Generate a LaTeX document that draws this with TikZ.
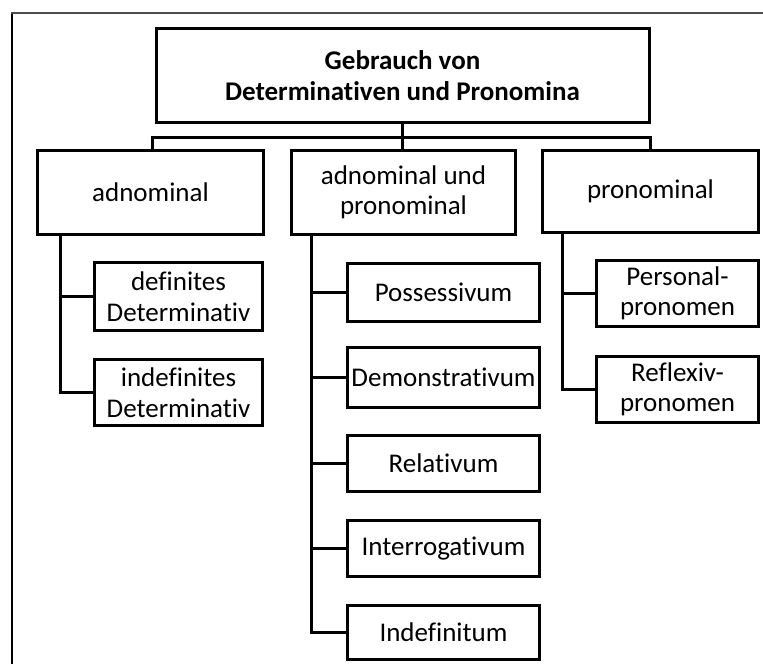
\documentclass[tikz,border=0pt]{standalone}
\usepackage{fontspec}
\setmainfont{Carlito}[Ligatures={NoCommon,NoRare}]
\begin{document}
\begin{tikzpicture}[x=1pt,y=-1pt,
  box/.style={draw=black,line width=3pt,align=center,inner sep=0pt,
    font=\fontsize{27}{30.5}\selectfont},
  link/.style={draw=black,line width=3pt}]
\useasboundingbox (0,0) rectangle (763,664);
% outer frame, cut off at the right and bottom
\draw[black,line width=2pt] (12,664) -- (12,13);
\draw[black!70,line width=2pt] (11,13) -- (763,13);

% root
\node[box,minimum width=493pt,minimum height=94pt,font=\fontsize{27}{31}\selectfont\bfseries]
  (top) at (402.5,75.5) {Gebrauch von\\Determinativen und Pronomina};

% first level
\node[box,minimum width=226pt,minimum height=84pt] (adn) at (150.5,192.5) {adnominal};
\node[box,minimum width=224pt,minimum height=84pt] (both) at (403.5,192.5) {adnominal und\\pronominal};
\node[box,minimum width=216pt,minimum height=82pt] (pro) at (650.5,191.5) {pronominal};

% children of adnominal
\node[box,minimum width=168pt,minimum height=68pt] (def) at (178.5,296.5) {definites\\Determinativ};
\node[box,minimum width=168pt,minimum height=66pt] (indef) at (178.5,392.5) {indefinites\\Determinativ};

% children of adnominal und pronominal
\node[box,minimum width=192pt,minimum height=58pt] (poss) at (443.5,292.5) {Possessivum};
\node[box,minimum width=192pt,minimum height=60pt] (dem) at (443.5,377.5) {Demonstrativum};
\node[box,minimum width=192pt,minimum height=56pt] (rel) at (443.5,463.5) {Relativum};
\node[box,minimum width=192pt,minimum height=56pt] (int) at (443.5,548.5) {Interrogativum};
\node[box,minimum width=192pt,minimum height=54pt] (indf) at (443.5,632.5) {Indefinitum};

% children of pronominal
\node[box,minimum width=162pt,minimum height=66pt] (pers) at (677.5,293.5) {Personal-\\pronomen};
\node[box,minimum width=162pt,minimum height=66pt] (refl) at (677.5,389.5) {Reflexiv-\\pronomen};

% root to first level
\draw[link] (top.south) -- ++(0,13) coordinate (j);
\draw[link] ([xshift=2pt]adn.north) |- (j) -| ([xshift=-0.5pt]pro.north);
\draw[link] (j) -- (j |- both.north);

% first level to children
\coordinate (a0) at ([xshift=24pt]adn.south west);
\draw[link] (a0) |- (def.west);
\draw[link] (a0) |- (indef.west);

\coordinate (b0) at ([xshift=21pt]both.south west);
\foreach \c in {poss,dem,rel,int,indf}
  \draw[link] (b0) |- (\c.west);

\coordinate (c0) at ([xshift=21pt]pro.south west);
\draw[link] (c0) |- (pers.west);
\draw[link] (c0) |- (refl.west);
\end{tikzpicture}
\end{document}
